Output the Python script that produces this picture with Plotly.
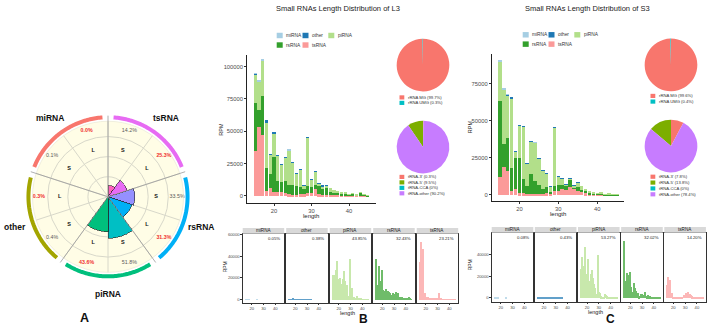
import math
import plotly.graph_objects as go

W, H = 708, 325
def fx(x): return x / W
def fy(y): return 1 - y / H

# ---------------- Panel A data ----------------
sector_types = ["tsRNA", "rsRNA", "piRNA", "other", "miRNA"]   # clockwise from top
short_pct = [14.2, 33.5, 51.8, 0.4, 0.1]
long_pct = [25.3, 31.3, 43.6, 0.3, 0.0]
sector_colors = ["#E76BF3", "#00B0F6", "#00BF7D", "#A3A500", "#F8766D"]
short_bar_colors = ["#FF62BC", "#9590FF", "#00BFC4", "#39B600", "#D89000"]
long_bar_colors = ["#E76BF3", "#00B0F6", "#00BF7D", "#A3A500", "#F8766D"]

# ---------------- Panel B / C data ----------------
lengths = [15, 16, 17, 18, 19, 20, 21, 22, 23, 24, 25, 26, 27, 28, 29, 30,
           31, 32, 33, 34, 35, 36, 37, 38, 39, 40, 41, 42, 43, 44, 45]
rna_classes = ["miRNA", "other", "piRNA", "rsRNA", "tsRNA"]
class_colors = ["#A6CEE3", "#1F78B4", "#B2DF8A", "#33A02C", "#FB9A99"]

L3_miRNA = [500, 400, 500, 0, 0, 0, 0, 0, 0, 400, 0, 0, 0, 0, 0, 0,
            0, 0, 0, 0, 0, 0, 0, 0, 0, 0, 0, 0, 0, 0, 0]
L3_other = [300, 200, 300, 1500, 400, 300, 200, 200, 100, 200, 100, 100, 100, 100, 100, 100,
            50, 50, 50, 50, 0, 0, 0, 0, 0, 0, 0, 0, 0, 0, 0]
L3_piRNA = [22600, 22300, 27200, 35900, 14900, 18700, 20000, 14100, 18500, 26700, 17200, 9500,
            13600, 3300, 37700, 5900, 11000, 1500, 2500, 1800, 3200, 1500, 1300, 600, 900, 500,
            300, 200, 300, 200, 100]
L3_rsRNA = [37200, 13100, 30500, 17400, 11300, 27400, 9000, 7700, 9700, 7200, 7700, 6900,
            5600, 3800, 5900, 5100, 2600, 7200, 4500, 5800, 2200, 2800, 2200, 1900, 1500, 900,
            1800, 700, 2600, 1200, 600]
L3_tsRNA = [34600, 53100, 46900, 3800, 5900, 2600, 2600, 2600, 1800, 1300, 800, 800,
            1300, 1300, 1800, 1800, 5600, 1300, 800, 600, 400, 300, 300, 200, 200, 100,
            100, 100, 100, 100, 50]

S3_miRNA = [600, 300, 400, 0, 0, 0, 0, 0, 0, 300, 0, 0, 0, 0, 0, 0,
            0, 0, 0, 0, 0, 0, 0, 0, 0, 0, 0, 0, 0, 0, 0]
S3_other = [400, 300, 300, 1000, 300, 300, 300, 200, 200, 200, 100, 100, 100, 100, 100, 100,
            100, 50, 50, 50, 50, 0, 0, 0, 0, 0, 0, 0, 0, 0, 0]
S3_piRNA = [26500, 37100, 29000, 47000, 4500, 21600, 35300, 15100, 22000, 25900, 18000, 12800,
            9000, 3400, 39400, 5600, 4500, 1500, 600, 1200, 3500, 2500, 1500, 800, 600, 300,
            300, 200, 200, 100, 100]
S3_rsRNA = [51800, 15100, 22500, 15800, 20700, 24100, 9700, 5600, 13300, 8800, 6100, 3400,
            4500, 1800, 3400, 4000, 2700, 2500, 5000, 1500, 2500, 1800, 1500, 1000, 800, 500,
            1000, 400, 600, 300, 200]
S3_tsRNA = [11900, 19100, 16200, 2300, 4100, 1100, 1100, 700, 700, 700, 700, 700,
            1100, 400, 2700, 2700, 4100, 3400, 5600, 3800, 2500, 1600, 1000, 600, 400, 300,
            200, 100, 100, 100, 50]

L3_facet_pct = ["0.05%", "0.38%", "43.85%", "32.43%", "23.21%"]
S3_facet_pct = ["0.08%", "0.43%", "53.27%", "32.02%", "14.20%"]

rrna_labels = ["rRNA MG", "rRNA UMG"]
rrna_colors = ["#F8766D", "#00BFC4"]
L3_rrna = [99.7, 0.3]
S3_rrna = [99.6, 0.4]
trna_labels = ["tRNA-3'", "tRNA-5'", "tRNA-CCA", "tRNA-other"]
trna_colors = ["#F8766D", "#7CAE00", "#00BFC4", "#C77CFF"]
L3_trna = [0.3, 9.5, 0, 90.2]
S3_trna = [7.8, 13.8, 0, 78.4]

FONT = "Liberation Sans, Arial, sans-serif"
traces, annotations, shapes = [], [], []

def ann(x, y, text, size, color="#222", xanchor="center", yanchor="middle", angle=0, bold=False):
    annotations.append(dict(x=fx(x), y=fy(y), xref="paper", yref="paper", text=(f"<b>{text}</b>" if bold else text),
                            showarrow=False, xanchor=xanchor, yanchor=yanchor, textangle=angle,
                            font=dict(size=size, color=color, family=FONT), borderpad=0))

# ================= Panel A : polar =================
PCX, PCY = 108, 196          # centre in pixels
SCALE = 76 / 94              # px per radial unit
s_theta = [90 - 72 * i - 18 for i in range(5)]
l_theta = [90 - 72 * i - 54 for i in range(5)]
traces.append(go.Barpolar(r=short_pct, theta=s_theta, width=[36] * 5,
                          marker=dict(color=short_bar_colors, line=dict(color="#222", width=0.6)), subplot="polar"))
traces.append(go.Barpolar(r=long_pct, theta=l_theta, width=[36] * 5,
                          marker=dict(color=long_bar_colors, line=dict(color="#222", width=0.6)), subplot="polar"))
traces.append(go.Scatterpolar(r=[60] * 10, theta=s_theta + l_theta, mode="text",
                              text=["<b>S</b>"] * 5 + ["<b>L</b>"] * 5,
                              textfont=dict(size=5.5, color="#111", family=FONT), subplot="polar"))
traces.append(go.Scatterpolar(r=[86] * 5, theta=s_theta, mode="text",
                              text=[f"{v:.1f}%" for v in short_pct],
                              textfont=dict(size=5.3, color="#5A5A5A", family=FONT), subplot="polar"))
traces.append(go.Scatterpolar(r=[86] * 5, theta=l_theta, mode="text",
                              text=[f"<b>{v:.1f}%</b>" for v in long_pct],
                              textfont=dict(size=5.3, color="#F03030", family=FONT), subplot="polar"))
# outer ring (second polar, same centre and scale)
for i in range(5):
    a = 90 - 72 * i
    traces.append(go.Scatterpolar(r=[0, 101], theta=[a, a], mode="lines",
                                  line=dict(color="#9A9A9A", width=0.8), hoverinfo="skip", subplot="polar2"))
    arc = [a - 4 - k for k in range(0, 65)]
    traces.append(go.Scatterpolar(r=[99] * len(arc), theta=arc, mode="lines",
                                  line=dict(color=sector_colors[i], width=4), hoverinfo="skip", subplot="polar2"))
    mid = math.radians(a - 36)
    ann(PCX + 98 * math.cos(mid), PCY - 98 * math.sin(mid), sector_types[i], 8.5, color="#111", bold=True)

# ================= Panels B and C : stacked bars =================
L3 = dict(miRNA=L3_miRNA, other=L3_other, piRNA=L3_piRNA, rsRNA=L3_rsRNA, tsRNA=L3_tsRNA)
S3 = dict(miRNA=S3_miRNA, other=S3_other, piRNA=S3_piRNA, rsRNA=S3_rsRNA, tsRNA=S3_tsRNA)
stack_order = ["tsRNA", "rsRNA", "piRNA", "other", "miRNA"]
cmap = dict(zip(rna_classes, class_colors))
for data, xa, ya in [(L3, "x", "y"), (S3, "x2", "y2")]:
    for c in stack_order:
        traces.append(go.Bar(x=lengths, y=data[c], marker=dict(color=cmap[c], line=dict(width=0)),
                             width=0.9, xaxis=xa, yaxis=ya, name=c))

# facets
B_left0, B_w, B_step, B_top, B_bot = 242.7, 41.5, 43.5, 233.3, 302.7
C_left0, C_w, C_step, C_top, C_bot = 491.7, 41.6, 43.15, 232.3, 301.7
for j, c in enumerate(rna_classes):
    for data, base in [(L3, 3), (S3, 8)]:
        traces.append(go.Bar(x=lengths, y=data[c], marker=dict(color=cmap[c], line=dict(width=0)),
                             opacity=0.7, width=0.9, xaxis=f"x{base + j}", yaxis=f"y{base + j}", name=c))

# pies
pie_specs = [
    (rrna_labels, rrna_colors, L3_rrna, 423, 63.5),
    (trna_labels, trna_colors, L3_trna, 423, 146),
    (rrna_labels, rrna_colors, S3_rrna, 671, 63.3),
    (trna_labels, trna_colors, S3_trna, 671, 145),
]
PR = 26.5
for labs, cols, vals, cx, cy in pie_specs:
    traces.append(go.Pie(labels=labs, values=vals, marker=dict(colors=cols, line=dict(width=0)),
                         sort=False, direction="counterclockwise", rotation=0, textinfo="none",
                         domain=dict(x=[fx(cx - PR), fx(cx + PR)], y=[fy(cy + PR), fy(cy - PR)]),
                         showlegend=False))

def legend_block(x_left, y_first, labels, colors, ncol, colw, rowh, sw, sh, fs, gap):
    for k, (lab, col) in enumerate(zip(labels, colors)):
        r, ci = divmod(k, ncol)
        x0 = x_left + ci * colw
        yc = y_first + r * rowh
        shapes.append(dict(type="rect", xref="paper", yref="paper", x0=fx(x0), x1=fx(x0 + sw),
                           y0=fy(yc + sh / 2), y1=fy(yc - sh / 2), fillcolor=col, line=dict(width=0)))
        ann(x0 + sw + gap, yc, lab, fs, color="#333", xanchor="left")

# titles
ann(338, 7, "Small RNAs Length Distribution of L3", 7.5, color="#222")
ann(587, 7, "Small RNAs Length Distribution of S3", 7.5, color="#222")

# bar legends
leg_labels = ["miRNA", "other", "piRNA", "rsRNA", "tsRNA"]
legend_block(276.7, 33.7, leg_labels, class_colors, 3, 25.8, 9.6, 6, 5.5, 4.8, 2.5)
legend_block(522.7, 33.0, leg_labels, class_colors, 3, 25.8, 9.4, 6, 5.5, 4.8, 2.5)

# pie legends
legend_block(399.5, 96.0, [f"{l} ({v:g}%)" for l, v in zip(rrna_labels, L3_rrna)], rrna_colors, 1, 0, 5.5, 4.8, 4.2, 4.2, 2.2)
legend_block(399.5, 176.0, [f"{l} ({v:g}%)" for l, v in zip(trna_labels, L3_trna)], trna_colors, 1, 0, 5.5, 4.8, 4.2, 4.2, 2.2)
legend_block(650.5, 94.5, [f"{l} ({v:g}%)" for l, v in zip(rrna_labels, S3_rrna)], rrna_colors, 1, 0, 5.7, 4.8, 4.2, 4.2, 2.2)
legend_block(650.5, 175.8, [f"{l} ({v:g}%)" for l, v in zip(trna_labels, S3_trna)], trna_colors, 1, 0, 5.9, 4.8, 4.2, 4.2, 2.2)

# axis titles
ann(221.5, 128, "RPM", 5.5, angle=-90)
ann(470, 126, "RPM", 5.5, angle=-90)
ann(311, 215.5, "length", 6)
ann(558, 213.5, "length", 6)
ann(225, 267, "RPM", 5, angle=-90)
ann(470, 265, "RPM", 5, angle=-90)
ann(347, 312.8, "length", 5.5)
ann(595, 311.8, "length", 5.5)

# panel letters
ann(84, 318, "A", 12.5, color="#111", bold=True)
ann(363, 318.5, "B", 12, color="#111", bold=True)
ann(610, 318.5, "C", 12, color="#111", bold=True)

# facet strips and percentage labels
for j, c in enumerate(rna_classes):
    for left0, w, step, top, pcts in [(B_left0, B_w, B_step, B_top, L3_facet_pct),
                                      (C_left0, C_w, C_step, C_top, S3_facet_pct)]:
        x0 = left0 + j * step
        shapes.append(dict(type="rect", xref="paper", yref="paper", x0=fx(x0), x1=fx(x0 + w),
                           y0=fy(top), y1=fy(top - 6), fillcolor="#D9D9D9", line=dict(width=0)))
        ann(x0 + w / 2, top - 3, c, 4.6, color="#1A1A1A")
        ann(x0 + w - 3, top + 5, pcts[j], 4.3, color="#222", xanchor="right")

# ================= axes =================
def base_axis(fs):
    return dict(showgrid=False, zeroline=False, showline=True, linecolor="#222", linewidth=0.7,
                ticks="outside", ticklen=2, tickwidth=0.6, tickcolor="#333", tickformat="d",
                tickfont=dict(size=fs, color="#4D4D4D", family=FONT))

layout = dict(width=W, height=H, margin=dict(l=0, r=0, t=0, b=0), paper_bgcolor="white",
              plot_bgcolor="white", showlegend=False, barmode="stack",
              font=dict(family=FONT, color="#333"), annotations=annotations, shapes=shapes)

R1 = 94 * SCALE
R2 = 104 * SCALE
layout["polar"] = dict(domain=dict(x=[fx(PCX - R1), fx(PCX + R1)], y=[fy(PCY + R1), fy(PCY - R1)]),
                       bgcolor="#FFFDE6",
                       radialaxis=dict(range=[0, 94], showgrid=True, gridcolor="#D8D8CA", gridwidth=0.7,
                                       tickvals=[25, 50, 75], showticklabels=False, showline=False, ticks=""),
                       angularaxis=dict(direction="counterclockwise", rotation=0, showgrid=True,
                                        gridcolor="#D8D8CA", gridwidth=0.7,
                                        tickvals=[18 + 36 * k for k in range(10)], showticklabels=False,
                                        showline=True, linecolor="#E6E4D0", linewidth=0.6, ticks=""))
layout["polar2"] = dict(domain=dict(x=[fx(PCX - R2), fx(PCX + R2)], y=[fy(PCY + R2), fy(PCY - R2)]),
                        bgcolor="rgba(0,0,0,0)",
                        radialaxis=dict(visible=False, range=[0, 104]),
                        angularaxis=dict(visible=False, direction="counterclockwise", rotation=0))

layout["xaxis"] = dict(base_axis(5.8), domain=[fx(247), fx(376)], anchor="y", range=[12.8, 47.2], tickvals=[20, 30, 40])
layout["yaxis"] = dict(base_axis(5.8), domain=[fy(202), fy(53)], anchor="x", range=[-5400, 109200],
                       tickvals=[0, 25000, 50000, 75000, 100000])
layout["xaxis2"] = dict(base_axis(5.8), domain=[fx(491.7), fx(624)], anchor="y2", range=[12.9, 46.85], tickvals=[20, 30, 40])
layout["yaxis2"] = dict(base_axis(5.8), domain=[fy(200), fy(52)], anchor="x2", range=[-4000, 95460],
                        tickvals=[0, 25000, 50000, 75000])

for j in range(5):
    for left0, w, step, top, bot, base, yr in [(B_left0, B_w, B_step, B_top, B_bot, 3, [-3000, 60500]),
                                                (C_left0, C_w, C_step, C_top, C_bot, 8, [-3600, 59500])]:
        x0 = left0 + j * step
        xa = dict(base_axis(4.2), domain=[fx(x0), fx(x0 + w)], anchor=f"y{base + j}", range=[12.3, 47.6],
                  tickvals=[20, 30, 40], mirror=True, linecolor="#333", linewidth=0.6, ticklen=1.5)
        ya = dict(base_axis(4.2), domain=[fy(bot), fy(top)], anchor=f"x{base + j}", range=yr,
                  tickvals=[0, 20000, 40000, 60000], mirror=True, linecolor="#333", linewidth=0.6,
                  showticklabels=(j == 0), ticks=("outside" if j == 0 else ""), ticklen=1.5)
        layout[f"xaxis{base + j}"] = xa
        layout[f"yaxis{base + j}"] = ya

fig = go.Figure(data=traces)
fig.update_layout(**layout)
fig.write_html("out.html")
